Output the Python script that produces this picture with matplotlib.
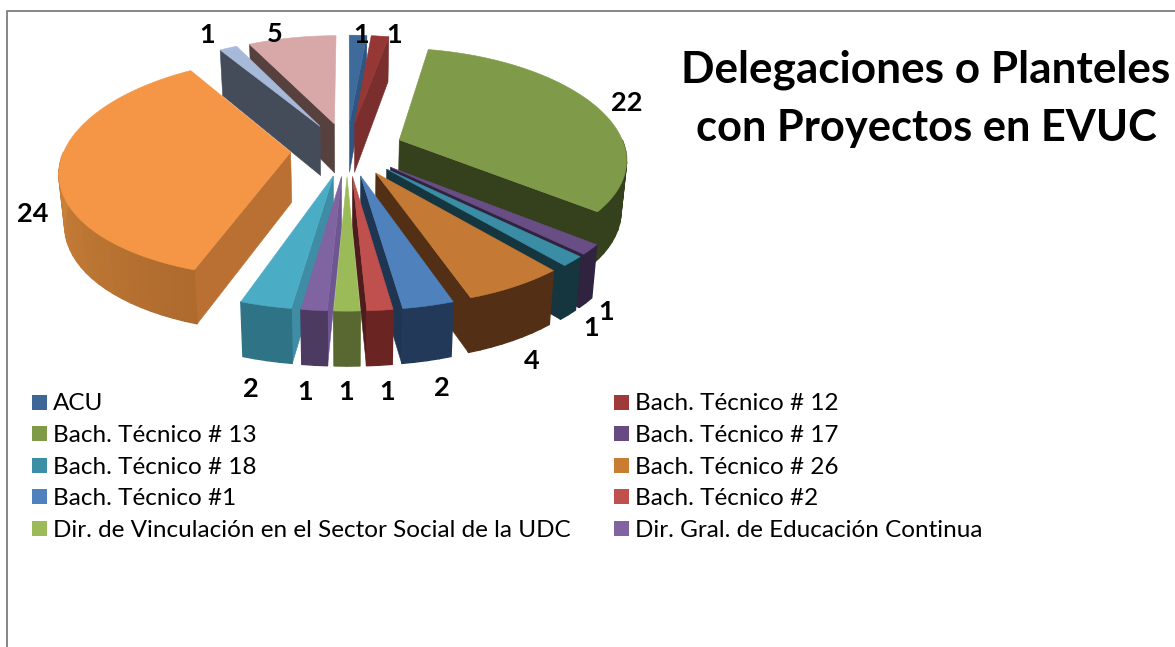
"""Pastel 3D explotado: proyectos en EVUC por delegación o plantel."""

import matplotlib

matplotlib.use("Agg")
import matplotlib.pyplot as plt
import numpy as np
from matplotlib.patches import Polygon, Rectangle

# valores en orden de las agujas del reloj desde las 12
values = [1, 1, 22, 1, 1, 4, 2, 1, 1, 1, 2, 24, 1, 5]
legend_labels = [
    "ACU",
    "Bach. Técnico # 12",
    "Bach. Técnico # 13",
    "Bach. Técnico # 17",
    "Bach. Técnico # 18",
    "Bach. Técnico # 26",
    "Bach. Técnico #1",
    "Bach. Técnico #2",
    "Dir. de Vinculación en el Sector Social de la UDC",
    "Dir. Gral. de Educación Continua",
]
title_lines = ["Delegaciones o Planteles", "con Proyectos en EVUC"]

top_colors = ["#3E6A9C", "#953735", "#7F9A48", "#684E84", "#3B8DA5", "#C47A35", "#4F81BD",
              "#C0504D", "#9BBB59", "#8064A2", "#4BACC6", "#F49645", "#A7B9D9", "#D8A7A7"]
wall_colors = ["#2F5583", "#7A2F2E", "#35401C", "#2F2340", "#15363F", "#533015", "#1F3652",
               "#4E1C1C", "#586830", "#6E5690", "#3E8DA5", "#BA7033", "#444C5A", "#57413F"]
rim_start = ["#2F5583", "#7A2F2E", "#35401C", "#2F2340", "#15363F", "#533015", "#23395A",
             "#6A2523", "#586830", "#4C3A60", "#2F7386", "#AE6A2E", "#444C5A", "#57413F"]
rim_end = ["#2F5583", "#7A2F2E", "#35401C", "#2F2340", "#15363F", "#533015", "#23395A",
           "#6A2523", "#586830", "#4C3A60", "#2F7386", "#CC8239", "#444C5A", "#57413F"]
legend_colors = ["#3E6797", "#9E3A38", "#7F9B48", "#664A85", "#3B8EA5", "#C97C33", "#4F81BD",
                 "#C0504D", "#9BBB59", "#8064A2"]

# centro de cada etiqueta de dato, en píxeles
label_xy = [(361, 35), (394, 35), (627, 103), (606, 312), (591, 328), (532, 361), (442, 388),
            (387, 392), (346, 392), (305, 392), (251, 389), (33, 214), (207, 35), (275, 34)]

# proyección: plano del pastel (radio 1) a píxeles de la figura
CX, CY = 347, 149
RX, RY = 226, 107
KX, KY = 0.16, 0.14
EXPLODE = 0.25
DEPTH = 50


def project(px, py):
    x = CX + RX * px / (1 + KX * py)
    y = CY - RY * py / (1 + KY * py)
    return x, y


def lower(px, py):
    x, y = project(px, py)
    return CX + (x - CX) * 0.98, y + DEPTH * (1 - 0.08 * py)


def mix(c0, c1, t):
    a, b = np.array(matplotlib.colors.to_rgb(c0)), np.array(matplotlib.colors.to_rgb(c1))
    return a + (b - a) * t


def draw_slice(ax, i, start, end):
    mid = (start + end) / 2
    ox, oy = EXPLODE * np.sin(mid), EXPLODE * np.cos(mid)
    kw = {"closed": True, "lw": 0.4}

    def rim(t):
        return ox + np.sin(t), oy + np.cos(t)

    # pared radial visible
    wall_t = None
    if 0 < end < np.pi:
        wall_t = end
    elif np.pi < start < 2 * np.pi:
        wall_t = start
    if wall_t is not None:
        rx, ry = rim(wall_t)
        quad = [project(ox, oy), project(rx, ry), lower(rx, ry), lower(ox, oy)]
        ax.add_patch(Polygon(quad, fc=wall_colors[i], ec=wall_colors[i], **kw))

    # borde exterior, solo la mitad que mira al frente
    a0, a1 = max(start, np.pi / 2), min(end, 3 * np.pi / 2)
    if a1 > a0:
        n = max(2, int(np.degrees(a1 - a0) / 3) + 1)
        ts = np.linspace(a0, a1, n + 1)
        for k in range(n):
            x0, y0 = rim(ts[k])
            x1, y1 = rim(ts[k + 1])
            col = mix(rim_start[i], rim_end[i], (k + 0.5) / n)
            quad = [project(x0, y0), project(x1, y1), lower(x1, y1), lower(x0, y0)]
            ax.add_patch(Polygon(quad, closed=True, fc=col, ec=col, lw=1.0))

    # cara superior
    ts = np.linspace(start, end, max(3, int(np.degrees(end - start) / 2) + 2))
    pts = [project(ox, oy)] + [project(*rim(t)) for t in ts]
    ax.add_patch(Polygon(pts, fc=top_colors[i], ec=top_colors[i], **kw))


def main():
    fig = plt.figure(figsize=(11.75, 6.47), dpi=100)
    ax = fig.add_axes([0, 0, 1, 1])
    ax.set_xlim(0, 1175)
    ax.set_ylim(647, 0)
    ax.axis("off")
    plt.rcParams["font.family"] = ["Lato", "DejaVu Sans"]

    # marco del gráfico
    ax.plot([7, 7, 1175], [647, 11, 11], color="#868686", lw=1.4)

    vals = np.array(values, dtype=float)
    edges = np.concatenate([[0], np.cumsum(vals)]) / vals.sum() * 2 * np.pi
    mids = (edges[:-1] + edges[1:]) / 2
    # de atrás hacia adelante
    for i in np.argsort(-np.cos(mids)):
        draw_slice(ax, i, edges[i], edges[i + 1])

    for v, (x, y) in zip(values, label_xy):
        ax.text(x, y, str(v), ha="center", va="center", fontsize=19.5, fontweight="bold",
                color="black")

    for line, y, size in zip(title_lines, [70, 128], [31.8, 31.2]):
        ax.text(926, y, line, ha="center", va="center", fontsize=size, fontweight="bold",
                color="black")

    # leyenda en dos columnas
    for j, (name, col) in enumerate(zip(legend_labels, legend_colors)):
        y = 402 + (j // 2) * 31.6
        x = 32 if j % 2 == 0 else 614
        ax.add_patch(Rectangle((x, y - 7.5), 15, 15, fc=col, ec="none"))
        ax.text(x + 21, y + 2, name, ha="left", va="center", fontsize=17.45, color="black")

    fig.savefig("out.png", dpi=100)


if __name__ == "__main__":
    main()
